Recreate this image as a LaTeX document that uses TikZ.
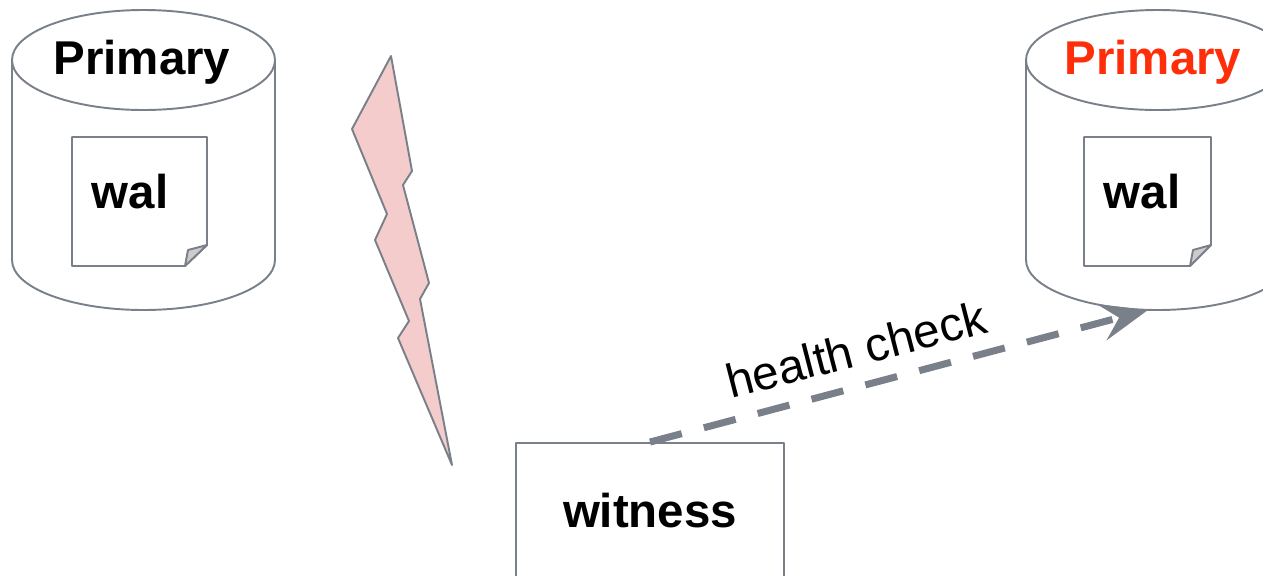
\documentclass[tikz,border=0pt]{standalone}
\usepackage{fontspec}
\setmainfont{Liberation Sans}
\usetikzlibrary{arrows.meta}
\definecolor{linegray}{HTML}{7A808A}
\definecolor{boltpink}{HTML}{F4CCCC}
\definecolor{foldgray}{HTML}{CCCCCC}
\definecolor{alertred}{HTML}{FF2E0A}
\tikzset{
  outline/.style={draw=linegray,line width=1.1pt,line join=round},
  bigbold/.style={font=\fontsize{27}{32}\selectfont\bfseries},
  plainlabel/.style={font=\fontsize{27}{32}\selectfont},
}
\begin{document}
\begin{tikzpicture}[x=0.02cm,y=-0.02cm]
\clip (0,0) rectangle (1263,575);
\useasboundingbox (0,0) rectangle (1263,575);
% cylinders
\foreach \x in {143.5,1157.5}
{
  \draw[outline] (\x-131.5,60) -- (\x-131.5,260) arc[start angle=180,end angle=0,x radius=131.5,y radius=50] -- (\x+131.5,60);
  \draw[outline] (\x,60) ellipse[x radius=131.5,y radius=50];
}
% wal pages
\foreach \l/\r/\f in {72/207/185,1084/1211/1190}
{
  \draw[outline] (\l,137) -- (\r,137) -- (\r,245) -- (\f,266) -- (\l,266) -- cycle;
  \draw[outline,fill=foldgray] (\r,245) -- (\f+3,250) -- (\f,266) -- cycle;
}
% lightning
\draw[outline,fill=boltpink] (391,56) -- (352,129) -- (387,214) -- (375,240) -- (409,321) -- (398,338) -- (452,465)
  -- (420,299) -- (429,283) -- (403,185) -- (412,171) -- cycle;
% texts
\node[bigbold] (primaryA) at (142,62) {Primary};
\node[bigbold,text=alertred] (primaryB) at (1153,62) {Primary};
\node[bigbold] (walA) at (130,192) {wal};
\node[bigbold] (walB) at (1142,192) {wal};
\node[outline,bigbold,minimum width=5.36cm,minimum height=2.72cm] (witness) at (650,511) {witness};
\coordinate (primaryBbase) at (1148,310);
% health check
\draw[draw=linegray,line width=4pt,dash pattern=on 18.7pt off 13pt,
  -{Stealth[length=27pt,width=21pt,inset=10pt,fill=linegray]}] (witness.north) -- (primaryBbase);
\node[plainlabel,rotate=14.5] (healthcheck) at (856,349) {health check};
\end{tikzpicture}
\end{document}
